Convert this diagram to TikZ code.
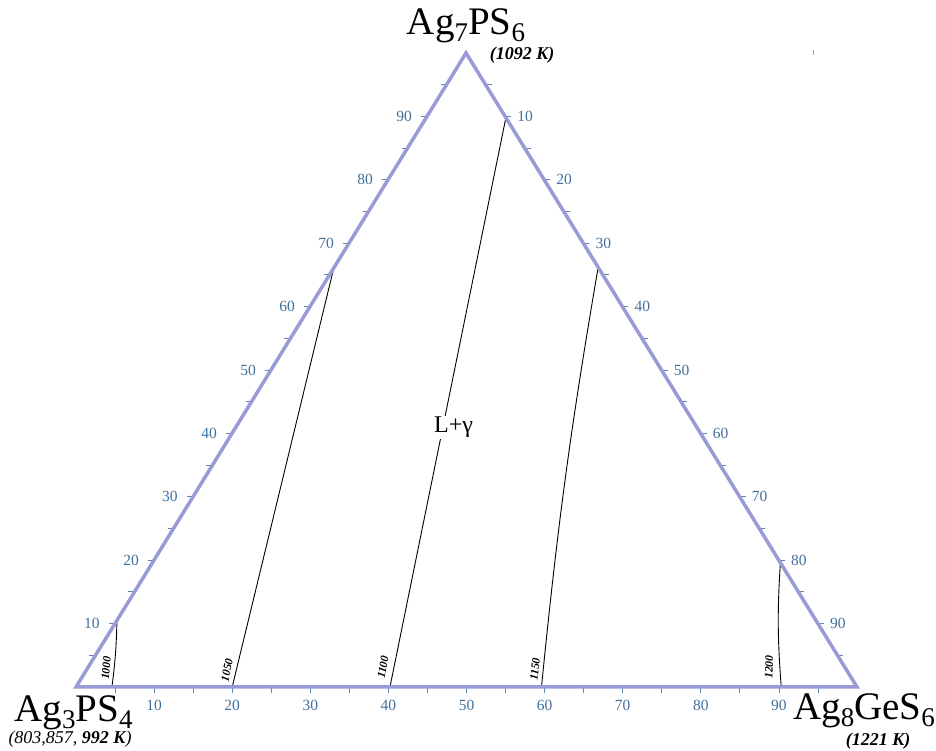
\documentclass[tikz,border=0pt]{standalone}
\usepackage{fontspec}
\setmainfont{Liberation Serif}
\usetikzlibrary{calc}
\definecolor{edgelilac}{HTML}{9A9AD8}
\definecolor{ticksteel}{HTML}{41709C}
\newcommand{\lowsub}[1]{\raisebox{-0.17em}{\fontsize{27}{27}\selectfont #1}}

\begin{document}
\begin{tikzpicture}[
    x=1pt, y=1pt,
    side/.style={draw=edgelilac, line width=3.5pt, line join=miter},
    tk/.style={draw=ticksteel!85, line width=0.8pt},
    tlab/.style={text=ticksteel, font=\fontsize{15.5}{15.5}\selectfont, inner sep=0pt},
    iso/.style={black, line width=0.9pt},
    isolab/.style={font=\fontsize{11.5}{11.5}\selectfont\bfseries\itshape, inner sep=0pt},
    comp/.style={font=\fontsize{39}{39}\selectfont, inner sep=0pt, anchor=base},
    melt/.style={font=\fontsize{18}{18}\selectfont\bfseries\itshape, inner sep=0pt, anchor=base},
]
  \useasboundingbox (0,0) rectangle (936,751);
  \coordinate (A) at (76,64);
  \coordinate (B) at (857,64);
  \coordinate (C) at (466,698);
  % ticks every 5
  \foreach \k in {5,10,...,95} {
    \draw[tk] ($(A)!\k/100!(C)$) -- ++(-6,0);
    \draw[tk] ($(C)!\k/100!(B)$) -- ++(6,0);
    \draw[tk] ($(A)!\k/100!(B)$) -- ++(0,-6);
  }
  \foreach \k in {10,20,...,90} {
    \node[tlab] (lft\k) at ($(A)!\k/100!(C)+(-23,0)$) {\k};
    \node[tlab] (rgt\k) at ($(C)!\k/100!(B)+(20,0)$) {\k};
    \node[tlab] (bot\k) at ($(A)!\k/100!(B)+(0,-18)$) {\k};
  }
  % isotherm ends
  \coordinate (t1000) at ($(A)!0.105!(C)$);
  \coordinate (b1000) at ($(A)!0.046!(B)$);
  \coordinate (t1050) at ($(A)!0.661!(C)$);
  \coordinate (b1050) at ($(A)!0.200!(B)$);
  \coordinate (t1100) at ($(C)!0.102!(B)$);
  \coordinate (b1100) at ($(A)!0.402!(B)$);
  \coordinate (t1150) at ($(C)!0.338!(B)$);
  \coordinate (b1150) at ($(A)!0.596!(B)$);
  \coordinate (t1200) at ($(C)!0.804!(B)$);
  \coordinate (b1200) at ($(A)!0.903!(B)$);
  \draw[iso] (t1000) to[bend left=3] (b1000);
  \draw[iso] (t1050) -- (b1050);
  \draw[iso] (t1100) -- (b1100);
  \draw[iso] (t1150) to[bend right=2] (b1150);
  \draw[iso] (t1200) to[bend right=4] (b1200);
  \draw[side] (A) -- (B) -- (C) -- cycle;
  \node[fill=white, font=\fontsize{24}{24}\selectfont, inner sep=1pt, anchor=base] (phase) at (453.5,318) {L+γ};
  \node[isolab, rotate=85] (n1000) at (106,83) {1000};
  \node[isolab, rotate=78] (n1050) at (227,81) {1050};
  \node[isolab, rotate=79] (n1100) at (383,84) {1100};
  \node[isolab, rotate=83] (n1150) at (535,82) {1150};
  \node[isolab, rotate=88] (n1200) at (769,84) {1200};
  % compounds
  \node[comp] (ag7) at (466,716) {Ag\lowsub{7}PS\lowsub{6}};
  \node[melt] (ag7t) at (522,691) {(1092 K)};
  \node[comp] (ag3) at (73.5,29) {Ag\lowsub{3}PS\lowsub{4}};
  \node[font=\fontsize{18}{18}\selectfont\itshape, inner sep=0pt, anchor=base] (ag3t) at (70,7) {(803,857, \textbf{992 K})};
  \node[comp] (ag8) at (864,31) {Ag\lowsub{8}GeS\lowsub{6}};
  \node[melt] (ag8t) at (878,5) {(1221 K)};
  \draw[ticksteel!60, line width=1pt] (813,696) -- (813,701);
\end{tikzpicture}
\end{document}
